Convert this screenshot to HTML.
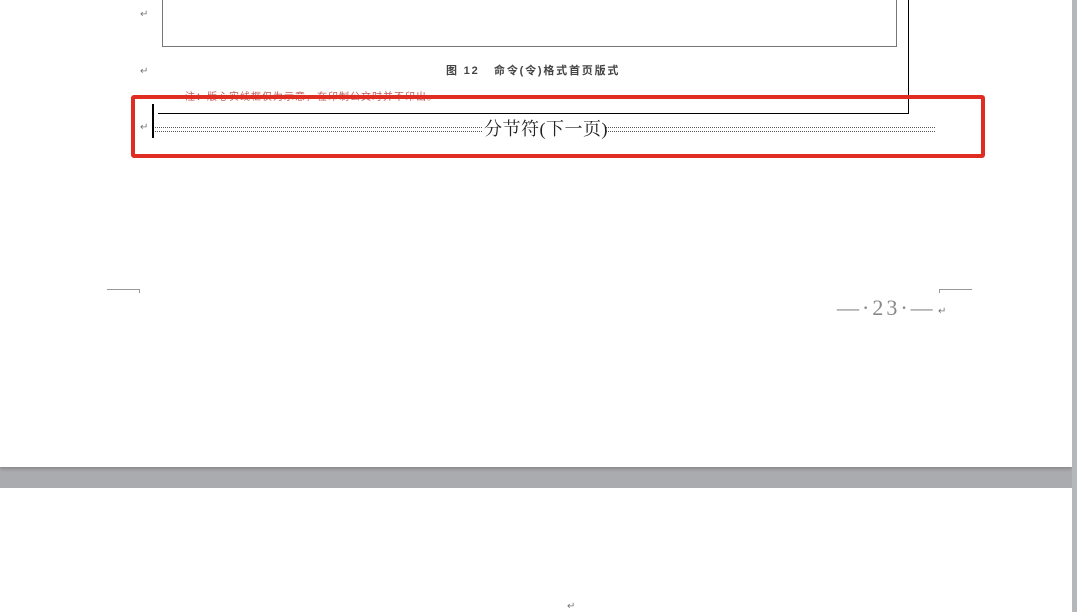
<!DOCTYPE html>
<html><head><meta charset="utf-8"><style>
body{margin:0;width:1077px;height:612px;background:#a9abaf;position:relative;overflow:hidden;font-family:"Liberation Serif","Noto Serif CJK SC",serif}
.a{position:absolute}
.ret{position:absolute;font-size:10px;color:#777}
</style></head><body>
<div class="a" style="left:0;top:0;width:1072px;height:467px;background:#fff;box-shadow:0 2px 3px #888"></div>
<div class="a" style="left:1072px;top:0;width:5px;height:612px;background:#b5b7ba"></div>
<div class="a" style="left:0;top:488px;width:1072px;height:124px;background:#fff"></div>
<div class="a" style="left:162px;top:-2px;width:733px;height:48px;border:1px solid #777;border-top:none"></div>
<div class="ret" style="left:140px;top:9px">↵</div>
<div class="ret" style="left:140px;top:66px">↵</div>
<div class="a" style="left:446px;top:62px;font-size:11px;font-weight:bold;color:#444;font-family:'Liberation Sans','Noto Sans CJK SC',sans-serif;letter-spacing:1.8px">图 12 &nbsp; 命令(令)格式首页版式</div>
<div class="a" style="left:185px;top:88px;font-size:10px;color:#a33;font-family:'Liberation Sans','Noto Sans CJK SC',sans-serif;opacity:.8;letter-spacing:1px">注：版心实线框仅为示意，在印制公文时并不印出。</div>
<div class="a" style="left:908px;top:0;width:1px;height:114px;background:#000"></div>
<div class="a" style="left:158px;top:113px;width:751px;height:1px;background:#000"></div>
<div class="a" style="left:131px;top:95px;width:846px;height:55px;border:4px solid #e02d23;border-radius:3px"></div>
<div class="a" style="left:152px;top:104px;width:2px;height:34px;background:#000"></div>
<div class="ret" style="left:140px;top:122px">↵</div>
<div class="a" style="left:155px;top:127px;width:327px;height:3px;border-top:1px dotted #555;border-bottom:1px dotted #555"></div>
<div class="a" style="left:606px;top:127px;width:329px;height:3px;border-top:1px dotted #555;border-bottom:1px dotted #555"></div>
<div class="a" style="left:484px;top:115px;font-size:18px;letter-spacing:0.5px;color:#222">分节符(下一页)</div>
<div class="a" style="left:107px;top:289px;width:32px;height:1px;background:#999"></div>
<div class="a" style="left:139px;top:289px;width:1px;height:4px;background:#999"></div>
<div class="a" style="left:940px;top:289px;width:32px;height:1px;background:#999"></div>
<div class="a" style="left:939px;top:289px;width:1px;height:4px;background:#999"></div>
<div class="a" style="left:837px;top:295px;font-size:22px;color:#888;letter-spacing:3px">—·23·—</div>
<div class="ret" style="left:938px;top:306px">↵</div>
<div class="ret" style="left:567px;top:601px">↵</div>
</body></html>
